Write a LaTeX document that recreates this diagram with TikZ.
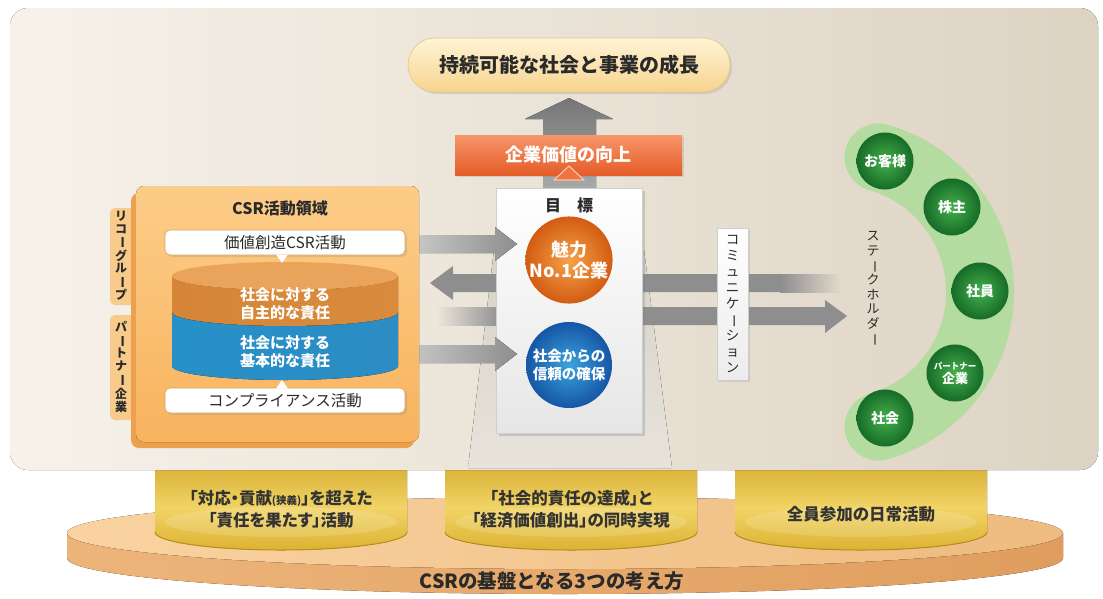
\documentclass[tikz,border=0pt]{standalone}
\usepackage{graphicx}
\usepackage{fontspec}
\setmainfont{Noto Sans CJK JP}
\usetikzlibrary{shadows}
\definecolor{panelL}{HTML}{F6F2EA}
\definecolor{panelR}{HTML}{DDD3C3}
\definecolor{panelA}{HTML}{EDE6DB}
\definecolor{panelB}{HTML}{E4DBCD}
\definecolor{txt}{HTML}{2A2A2A}
\definecolor{pilltxt}{HTML}{333333}
\definecolor{ringg}{HTML}{B4DBA0}
\definecolor{gA}{HTML}{8E8E8E}
\definecolor{gL}{HTML}{CDCDCD}
\definecolor{upT}{HTML}{767676}
\definecolor{upB}{HTML}{ABABAB}
\definecolor{trapT}{HTML}{D6D2CA}
\definecolor{trapB}{HTML}{E8E3DA}
\definecolor{discSL}{HTML}{EDB47A}
\definecolor{discSR}{HTML}{DF9E5E}
\definecolor{discTL}{HTML}{F9D3A0}
\definecolor{discTR}{HTML}{EEBB80}
\definecolor{pilT}{HTML}{D9B136}
\definecolor{pilM}{HTML}{F1D466}
\definecolor{pilB}{HTML}{DDB232}
\definecolor{pilEdge}{HTML}{B48E1E}
\definecolor{cardB}{HTML}{E6E6E6}
\definecolor{cardEdge}{HTML}{CFCFCF}
\definecolor{commB}{HTML}{ECECEC}
\definecolor{orIn}{HTML}{F6A24A}
\definecolor{orOut}{HTML}{D25C12}
\definecolor{blIn}{HTML}{3CA3DD}
\definecolor{blOut}{HTML}{1556A6}
\definecolor{gin}{HTML}{45B04C}
\definecolor{gout}{HTML}{166B28}
\definecolor{vbT}{HTML}{F7966A}
\definecolor{vbB}{HTML}{E45C28}
\definecolor{triO}{HTML}{EE7442}
\definecolor{triEdge}{HTML}{F9C3A8}
\definecolor{pillT}{HTML}{FFF4D6}
\definecolor{pillB}{HTML}{F6D48E}
\definecolor{pillEdge}{HTML}{E6C684}
\definecolor{tabc}{HTML}{F8CB8A}
\definecolor{obBack}{HTML}{EDA04E}
\definecolor{obT}{HTML}{FCCD88}
\definecolor{obB}{HTML}{F8B35E}
\definecolor{orsL}{HTML}{D58535}
\definecolor{orsM}{HTML}{E8A459}
\definecolor{orsR}{HTML}{D98B3E}
\definecolor{orTop}{HTML}{E9A35A}
\definecolor{blL}{HTML}{2790C8}
\definecolor{blM}{HTML}{3AA5DA}
\definecolor{blR}{HTML}{2B8DC4}
\definecolor{boxedge}{HTML}{D9A060}
\newcommand\cho{\rotatebox[origin=c]{-90}{ー}}
\begin{document}
\begin{tikzpicture}[x=1pt,y=-1pt,
  every node/.style={inner sep=0pt, text=txt},
  softshadow/.style={drop shadow={opacity=0.22, shadow xshift=2pt, shadow yshift=-2pt}},
  wbox/.style={rectangle, rounded corners=5pt, fill=white, draw=boxedge, line width=0.6pt,
    minimum width=240pt, minimum height=25pt, font=\fontsize{15.5}{18}\selectfont, softshadow},
  orb/.style={circle, text=white, align=center},
  gball/.style={circle, minimum size=57pt, inner color=gin, outer color=gout, text=white,
    align=center, font=\bfseries\fontsize{14}{16}\selectfont},
  vtext/.style={align=center, font=\fontsize{13}{15.5}\selectfont},
  pillartext/.style={align=center, font=\bfseries\fontsize{16.5}{22}\selectfont\addfontfeatures{RawFeature=+palt}, text=pilltxt},
  garrow/.style={left color=gL, right color=gA}
]
\useasboundingbox (0,0) rectangle (1103,598);
\fill[white] (0,0) rectangle (1103,598);

% base disc
\fill[left color=discSL, right color=discSR] (67,533) -- (67,558)
  arc[start angle=180, end angle=0, x radius=498, y radius=36] -- (1063,533) -- cycle;
\fill[left color=discTL, right color=discTR] (565,533) ellipse[x radius=498, y radius=36];

% pillars
\foreach \xa in {155,445,735}{
  \fill[top color=pilT, bottom color=pilB, middle color=pilM] (\xa,466) -- (\xa,532)
    arc[start angle=180, end angle=0, x radius=126, y radius=18] -- (\xa+252,466) -- cycle;
  \fill[white, opacity=0.15] (\xa+126,522) ellipse[x radius=116, y radius=15];
  \draw[pilEdge, line width=1pt] (\xa,532) arc[start angle=180, end angle=0, x radius=126, y radius=18];
}
\node[pillartext] (p1) at (281,509) {「対応・貢献{\fontsize{10.5}{12}\selectfont(狭義)}」を超えた\\「責任を果たす」活動};
\node[pillartext] (p2) at (571,509) {「社会的責任の達成」と\\「経済価値創出」の同時実現};
\node[pillartext] (p3) at (861,514) {全員参加の日常活動};
\node[font=\bfseries\fontsize{19.5}{22}\selectfont] (base) at (552,581) {CSRの基盤となる3つの考え方};

% panel
\fill[left color=panelL, right color=panelR, rounded corners=18pt] (10,8) rectangle (1098,470);

% trapezoid and up arrow
\fill[top color=trapT, bottom color=trapB] (494,250) -- (644,250) -- (672,468) -- (468,468) -- cycle;
\fill[top color=upT, bottom color=upB] (543,192) -- (543,119) -- (525,119) -- (569,98)
  -- (613,119) -- (596,119) -- (596,192) -- cycle;

% arrows behind the card
\fill[gA] (782,274) -- (453,274) -- (453,266) -- (430,283) -- (453,300) -- (453,292) -- (782,292) -- cycle;
\fill[left color=gA, right color=panelB] (780,274) rectangle (842,292);
\fill[gA] (500,307) -- (825,307) -- (825,300) -- (847,316) -- (825,333) -- (825,325) -- (500,325) -- cycle;
\fill[left color=panelA, right color=gA] (436,307) rectangle (502,325);

% goal card
\node[rectangle, minimum width=146pt, minimum height=245pt, top color=white, bottom color=cardB,
  draw=cardEdge, line width=0.4pt, drop shadow={opacity=0.3, shadow xshift=3pt, shadow yshift=-3pt},
  anchor=north] (card) at (569,188) {};
\node[font=\bfseries\fontsize{16}{18}\selectfont] (mokuhyo) at (569,205) {目　標};

% communication box
\node[rectangle, minimum width=31pt, minimum height=152pt, top color=white, bottom color=commB,
  draw=cardEdge, line width=0.4pt, softshadow, align=center, font=\fontsize{13.5}{16}\selectfont]
  (comm) at (732.5,304) {コ\\ミ\\ュ\\ニ\\ケ\\\cho\\シ\\ョ\\ン};

% arrows into the goals
\fill[garrow] (405,235) -- (495,235) -- (495,227) -- (517,244) -- (495,261) -- (495,253) -- (405,253) -- cycle;
\fill[garrow] (398,345) -- (495,345) -- (495,337) -- (517,354) -- (495,371) -- (495,363) -- (398,363) -- cycle;

% goal balls
\node[orb, minimum size=87pt, inner color=orIn, outer color=orOut,
  font=\bfseries\fontsize{18}{21}\selectfont] (miryoku) at (569,260) {魅力\\No.1企業};
\node[orb, minimum size=86pt, inner color=blIn, outer color=blOut,
  font=\bfseries\fontsize{14.5}{18}\selectfont] (shinrai) at (569,365) {社会からの\\信頼の確保};

% value box
\node[rectangle, minimum width=227pt, minimum height=40pt, top color=vbT, bottom color=vbB,
  text=white, font=\bfseries\fontsize{18}{20}\selectfont, softshadow] (value) at (568.5,155) {企業価値の向上};
\filldraw[fill=triO, draw=triEdge, line width=1.2pt, line join=round] (554,180) -- (569,166) -- (584,180) -- cycle;

% top goal pill
\node[rectangle, rounded corners=27pt, minimum width=322pt, minimum height=54pt, top color=pillT,
  bottom color=pillB, draw=pillEdge, line width=0.6pt, softshadow,
  font=\bfseries\fontsize{20}{22}\selectfont] (goal) at (569,65) {持続可能な社会と事業の成長};

% stakeholders
\draw[ringg, line width=68pt, line cap=round] (840,292) ++(-74:140) arc[start angle=-74, end angle=74, radius=140];
\node[gball] (c1) at (885,161) {お客様};
\node[gball] (c2) at (952,207) {株主};
\node[gball] (c3) at (980,291) {社員};
\node[gball, font=\bfseries\fontsize{13}{14}\selectfont] (c4) at (955,373) {{\fontsize{8.5}{10}\selectfont パートナー}\\企業};
\node[gball] (c5) at (885,418) {社会};
\node[vtext, font=\fontsize{13}{14.6}\selectfont] (sh) at (873,289) {ス\\テ\\\cho\\ク\\ホ\\ル\\ダ\\\cho};

% left CSR area
\fill[tabc, rounded corners=5pt] (110,208) rectangle (140,305);
\fill[tabc, rounded corners=5pt] (110,315) rectangle (140,420);
\node[vtext, font=\bfseries\fontsize{12}{12.5}\selectfont] (ricoh) at (121,256) {リ\\コ\\\cho\\グ\\ル\\\cho\\プ};
\node[vtext, font=\bfseries\fontsize{12}{13}\selectfont] (partner) at (121,367) {パ\\\cho\\ト\\ナ\\\cho\\企\\業};
\fill[obBack, rounded corners=8pt] (131,193) rectangle (414,448);
\fill[top color=obT, bottom color=obB, rounded corners=8pt] (136,186) rectangle (419,442);
\node[font=\bfseries\fontsize{16}{18}\selectfont] (csr) at (280,208) {CSR活動領域};

% cylinder
\fill[left color=blL, middle color=blM, right color=blR] (172,312) -- (172,366)
  arc[start angle=180, end angle=0, x radius=113, y radius=14] -- (398,312) -- cycle;
\fill[left color=orsL, middle color=orsM, right color=orsR] (172,276) -- (172,312)
  arc[start angle=180, end angle=0, x radius=113, y radius=14] -- (398,276)
  arc[start angle=0, end angle=180, x radius=113, y radius=14] -- cycle;
\fill[orTop] (285,276) ellipse[x radius=113, y radius=14];
\node[font=\bfseries\fontsize{15}{17.5}\selectfont, text=white, align=center] (jishu) at (285,304) {社会に対する\\自主的な責任};
\node[font=\bfseries\fontsize{15}{17.5}\selectfont, text=white, align=center] (kihon) at (285,352) {社会に対する\\基本的な責任};

\node[wbox] (vc) at (285,242.5) {価値創造CSR活動};
\fill[white] (276,254.5) -- (288,254.5) -- (282,263) -- cycle;
\node[wbox] (comp) at (285,400.5) {コンプライアンス活動};
\fill[white] (276,388.5) -- (288,388.5) -- (282,380) -- cycle;
\end{tikzpicture}
\end{document}
